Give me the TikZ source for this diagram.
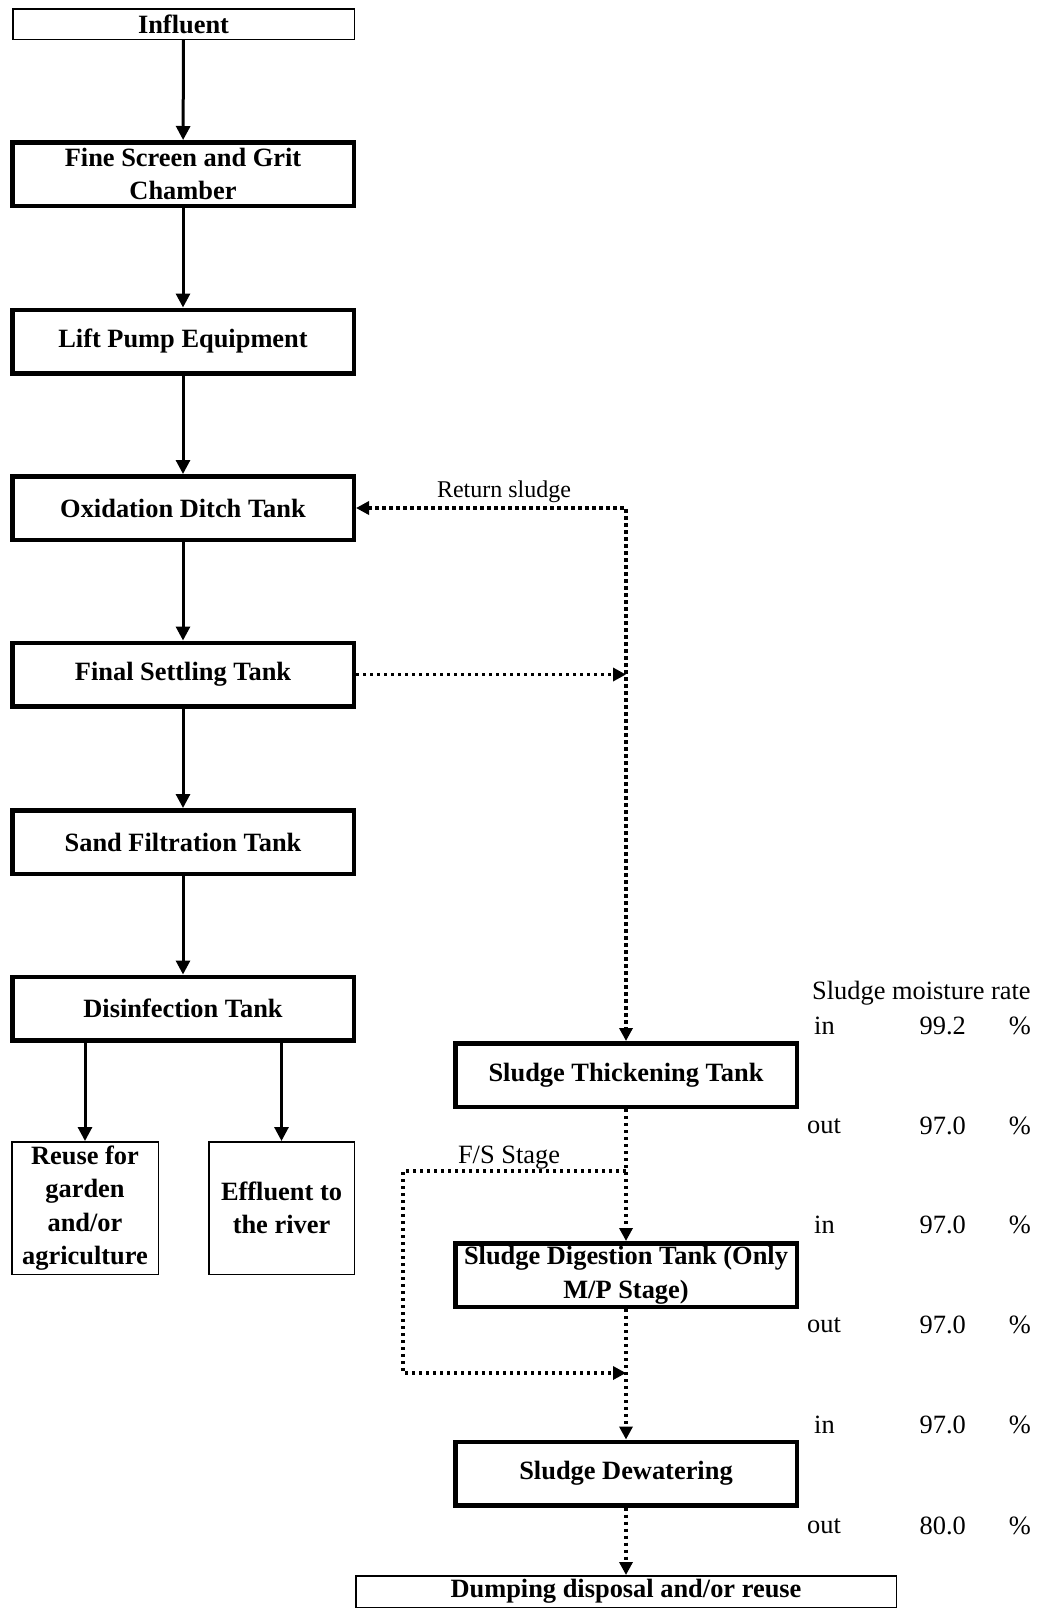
\documentclass[tikz,border=0pt]{standalone}
\usepackage{fontspec}
\setmainfont{Liberation Serif}
\usetikzlibrary{arrows.meta}
\begin{document}
\begin{tikzpicture}[x=1pt,y=-1pt,
  boxfont/.style={font=\bfseries\fontsize{26.4}{33.5}\selectfont},
  thickbox/.style={draw, line width=4.5pt, minimum width=341.5pt, minimum height=63.5pt, inner sep=2pt, boxfont, align=center},
  thinbox/.style={draw, line width=1.5pt, inner sep=2pt, boxfont, align=center},
  flow/.style={line width=3pt, -{Triangle[length=14pt,width=14pt]}},
  dotflow/.style={line width=3.6pt, dash pattern=on 3.4pt off 3.6pt},
  dtip/.style={-{Triangle[length=13pt,width=13pt]}},
  lbl/.style={font=\fontsize{26.4}{30}\selectfont, inner sep=0pt},
  slbl/.style={font=\fontsize{24}{28}\selectfont, inner sep=0pt}]
\useasboundingbox (0,0) rectangle (1038,1610);

% main line
\node[thinbox, minimum width=341.5pt, minimum height=30.5pt] (infl) at (183.5,24) {Influent};
\node[thickbox] (fine) at (183,174) {Fine Screen and Grit\\Chamber};
\node[thickbox] (lift) at (183,341.5) {Lift Pump Equipment};
\node[thickbox] (oxid) at (183,508) {Oxidation Ditch Tank};
\node[thickbox] (final) at (183,674.5) {Final Settling Tank};
\node[thickbox] (sand) at (183,842) {Sand Filtration Tank};
\node[thickbox] (disinf) at (183,1008.5) {Disinfection Tank};
\node[thinbox, minimum width=146.5pt, minimum height=132.5pt] (reuse) at (85,1208) {Reuse for\\garden\\and/or\\agriculture};
\node[thinbox, minimum width=145.5pt, minimum height=132.5pt] (effl) at (281.5,1208) {Effluent to\\the river};

% sludge line
\node[thickbox] (thick) at (626,1075) {Sludge Thickening Tank};
\node[thickbox] (digest) at (626,1275) {Sludge Digestion Tank (Only\\M/P Stage)};
\node[thickbox] (dewat) at (626,1473.5) {Sludge Dewatering};
\node[thinbox, minimum width=540.5pt, minimum height=31.5pt] (dump) at (626,1591.5) {Dumping disposal and/or reuse};

% solid arrows
\draw[flow] (infl) -- (fine);
\draw[flow] (fine) -- (lift);
\draw[flow] (lift) -- (oxid);
\draw[flow] (oxid) -- (final);
\draw[flow] (final) -- (sand);
\draw[flow] (sand) -- (disinf);
\draw[flow] (reuse.north |- disinf.south) -- (reuse.north);
\draw[flow] (effl.north |- disinf.south) -- (effl.north);

% dotted connectors
\coordinate (rc) at (thick.north |- oxid.east);
\draw[dotflow, {Triangle[length=13pt,width=13pt]}-{Triangle[length=13pt,width=13pt]}] (oxid.east) -- (rc) -- (thick.north);
\draw[dotflow, dtip] (final.east) -- (final.east -| thick.north);
\draw[dotflow, dtip] (thick.south) -- (digest.north);
\draw[dotflow, dtip] (digest.south) -- (dewat.north);
\draw[dotflow, dtip] (dewat.south) -- (dump.north);
\coordinate (fsa) at (626,1171);
\coordinate (fsb) at (403,1171);
\coordinate (fsc) at (403,1373);
\coordinate (fsd) at (626,1373);
\draw[dotflow, dtip] (fsa) -- (fsb) -- (fsc) -- (fsd);

% labels
\node[slbl] (rsl) at (504,492) {Return sludge};
\node[lbl] (fsl) at (509,1158) {F/S Stage};

\node[lbl, anchor=west] (smr) at (812,993) {Sludge moisture rate};
\node[lbl, anchor=west] (wa) at (814,1026) {in};
\node[lbl, anchor=west] (wb) at (807,1126) {out};
\node[lbl, anchor=west] (wc) at (814,1225) {in};
\node[lbl, anchor=west] (wd) at (807,1325) {out};
\node[lbl, anchor=west] (we) at (814,1425) {in};
\node[lbl, anchor=west] (wf) at (807,1526) {out};
\foreach \nm/\y/\v in {a/1026/99.2, b/1126/97.0, c/1225/97.0, d/1325/97.0, e/1425/97.0, f/1526/80.0}{
  \node[lbl, anchor=east] (v\nm) at (966,\y) {\v};
  \node[lbl, anchor=east] (p\nm) at (1031,\y) {\%};
}
\end{tikzpicture}
\end{document}
